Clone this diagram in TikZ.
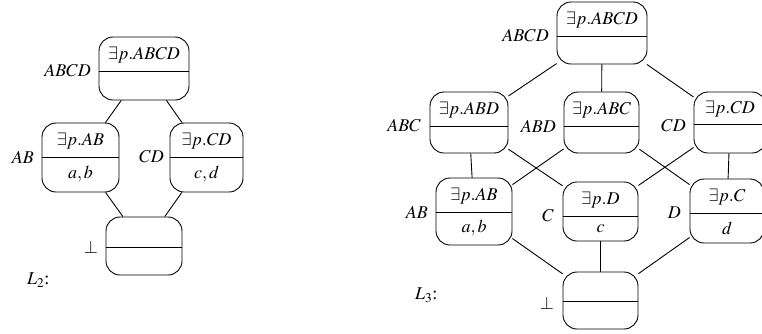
\documentclass[tikz,border=0pt]{standalone}
\usepackage{mathptmx}
\usepackage[no-math]{fontspec}
\setmainfont{Liberation Serif}
\tikzset{
  box/.style={draw, rounded corners=14pt, line width=0.9pt, inner sep=0pt},
  txt/.style={inner sep=0pt},
  lbl/.style={inner sep=0pt, anchor=east},
  edge/.style={line width=0.9pt}
}
% name, x1, x2, ytop, ydiv, ybot, top text, bottom text
\newcommand\latbox[8]{%
  \node[box, minimum width={#3-#2}, minimum height={#6-#4}] (#1) at ({(#2+#3)/2},{(#4+#6)/2}) {};
  \draw[line width=0.9pt] (#1.west |- 0,#5) -- (#1.east |- 0,#5);
  \node[txt] at ({(#2+#3)/2},{(#4+#5)/2+1}) {$#7$};
  \node[txt] at ({(#2+#3)/2},{(#5+#6)/2}) {$#8$};
}
\begin{document}
\begin{tikzpicture}[x=1pt,y=-1pt,font=\fontsize{18}{22}\selectfont]
\useasboundingbox (0,0) rectangle (762,333);
% ---- L2 ----
\latbox{lt}{99}{189}{37}{71}{100}{\exists p.ABCD}{}
\latbox{lab}{42}{119}{123}{157}{192}{\exists p.AB}{a,b}
\latbox{lcd}{170}{243}{123}{157}{192}{\exists p.CD}{c,d}
\latbox{lbot}{106}{182}{217}{247}{275}{}{}
\node[lbl] at (91,71) {$ABCD$};
\node[lbl] at (34,157) {$AB$};
\node[lbl] at (164,157) {$CD$};
\node[lbl] at (98,247) {$\perp$};
\node[inner sep=0pt, anchor=west] at (27,280) {$L_2$:};
\draw[edge] (lt) -- (lab);
\draw[edge] (lt) -- (lcd);
\draw[edge] (lab) -- (lbot);
\draw[edge] (lcd) -- (lbot);
% ---- L3 ----
\latbox{rt}{557}{647}{2}{36}{64}{\exists p.ABCD}{}
\latbox{ra}{430}{508}{92}{126}{153}{\exists p.ABD}{}
\latbox{rb}{564}{639}{92}{126}{153}{\exists p.ABC}{}
\latbox{rc}{694}{766}{92}{124}{153}{\exists p.CD}{}
\latbox{sa}{436}{512}{178}{212}{245}{\exists p.AB}{a,b}
\latbox{sb}{563}{638}{182}{216}{241}{\exists p.D}{c}
\latbox{sc}{690}{764}{179}{213}{243}{\exists p.C}{d}
\latbox{rbot}{563}{638}{272}{301}{329}{}{}
\node[lbl] at (549,36) {$ABCD$};
\node[lbl] at (421,126) {$ABC$};
\node[lbl] at (556,126) {$ABD$};
\node[lbl] at (686,126) {$CD$};
\node[lbl] at (428,212) {$AB$};
\node[lbl] at (554,216) {$C$};
\node[lbl] at (681,213) {$D$};
\node[lbl] at (554,303) {$\perp$};
\node[inner sep=0pt, anchor=west] at (415,295) {$L_3$:};
\draw[edge] (rt) -- (ra);
\draw[edge] (rt) -- (rb);
\draw[edge] (rt) -- (rc);
\draw[edge] (ra) -- (sa);
\draw[edge] (ra) -- (sb);
\draw[edge] (rb) -- (sa);
\draw[edge] (rb) -- (sc);
\draw[edge] (rc) -- (sb);
\draw[edge] (rc) -- (sc);
\draw[edge] (sa) -- (rbot);
\draw[edge] (sb) -- (rbot);
\draw[edge] (sc) -- (rbot);
\end{tikzpicture}
\end{document}
